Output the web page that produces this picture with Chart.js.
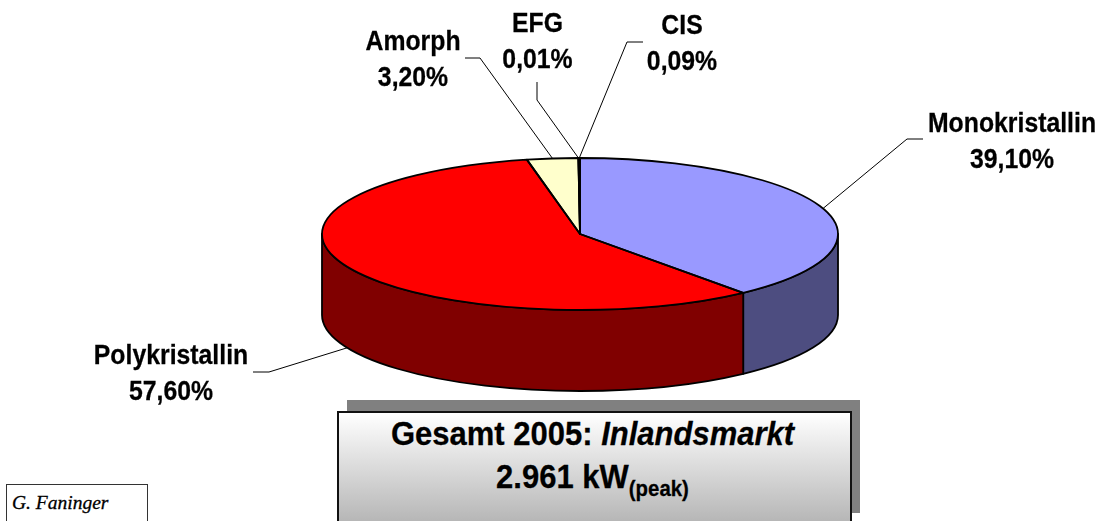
<!DOCTYPE html>
<html><head><meta charset="utf-8">
<style>
html,body{margin:0;padding:0;background:#fff;}
#wrap{position:relative;width:1103px;height:521px;overflow:hidden;font-family:"Liberation Sans",Arial,sans-serif;}
#c{position:absolute;left:0;top:0;}
.lbl{position:absolute;font-weight:bold;font-size:24.8px;line-height:31px;text-align:center;color:#000;white-space:nowrap;transform:translateX(-50%) scaleY(1.15);-webkit-text-stroke:0.25px #000;}
#shadow{position:absolute;left:347px;top:400px;width:513px;height:113px;background:#808080;}
#box{position:absolute;left:337px;top:411px;width:511px;height:112px;border:2px solid #111;background:linear-gradient(#fff,#b4b4b4);text-align:center;font-weight:bold;font-size:31px;line-height:38.5px;}
#inner{margin-top:3.5px;padding-right:4px;transform:scaleY(1.09);-webkit-text-stroke:0.25px #000;}
#box sub{font-size:20.4px;line-height:0;vertical-align:-8px;}
#sig{position:absolute;left:6px;top:484px;width:142px;height:40px;border:1px solid #333;background:#fff;font-family:"Liberation Serif",serif;font-style:italic;font-size:19.5px;line-height:36px;padding-left:5px;box-sizing:border-box;-webkit-text-stroke:0.3px #000;}
</style></head><body>
<div id="wrap">
<div id="shadow"></div>
<canvas id="c" width="1103" height="521"></canvas>
<div id="box"><div id="inner">Gesamt 2005: <i>Inlandsmarkt</i><br>2.961 kW<sub>(peak)</sub></div></div>
<div id="sig">G. Faninger</div>
</div>
<script src="https://cdn.jsdelivr.net/npm/chart.js@4/dist/chart.umd.min.js"></script>
<script>
const categories = ["Monokristallin","Polykristallin","Amorph","EFG","CIS"];
const shares = [39.1,57.6,3.2,0.01,0.09];
const shareLabels = ["39,10%","57,60%","3,20%","0,01%","0,09%"];
const topColors = ["#9999ff","#ff0000","#ffffcc","#ccffff","#660066"];
const sideColors = ["#4d4d80","#800000","#808066","#668080","#330033"];
const TILT = 76/258, DEPTH = 81, CY = 234;
const leaders = [
 {elbow:[907,139],end:[923,139],wall:false},
 {elbow:[269,372],end:[253,372],wall:true},
 {elbow:[480,58],end:[465,58],wall:false},
 {elbow:[537,100],end:[537,82],wall:false},
 {elbow:[627,42],end:[643,42],wall:false}
];
const labelPos = [[1012,109],[171,341],[413,27],[537.5,8.5],[682,10.5]];
labelPos.forEach((p,i)=>{
 const d=document.createElement('div');d.className='lbl';
 d.style.left=p[0]+'px';d.style.top=p[1]+'px';
 d.innerHTML=categories[i]+'<br>'+shareLabels[i];
 document.getElementById('wrap').appendChild(d);
});
const tilt3d = {
 id:'tilt3d',
 beforeDatasetsDraw(chart){
  const ctx=chart.ctx, arcs=chart.getDatasetMeta(0).data;
  const first=arcs[0];
  ctx.save();ctx.strokeStyle='#000';ctx.lineWidth=1.8;ctx.lineJoin='round';
  arcs.forEach((a,i)=>{
   const lo=Math.max(a.startAngle,0), hi=Math.min(a.endAngle,Math.PI);
   if(hi<=lo) return;
   const rx=a.outerRadius, ry=rx*TILT;
   ctx.beginPath();
   ctx.ellipse(a.x,CY,rx,ry,0,lo,hi,false);
   ctx.ellipse(a.x,CY+DEPTH,rx,ry,0,hi,lo,true);
   ctx.closePath();
   ctx.fillStyle=sideColors[i];ctx.fill();ctx.stroke();
  });
  ctx.restore();
  ctx.save();
  ctx.translate(0,CY);ctx.scale(1,TILT);ctx.translate(0,-first.y);
 },
 afterDatasetsDraw(chart){
  const ctx=chart.ctx, arcs=chart.getDatasetMeta(0).data;
  ctx.restore();
  ctx.save();ctx.strokeStyle='#000';ctx.lineWidth=1.8;ctx.lineJoin='round';
  arcs.forEach(a=>{
   const rx=a.outerRadius, ry=rx*TILT;
   ctx.beginPath();
   ctx.moveTo(a.x,CY);
   ctx.ellipse(a.x,CY,rx,ry,0,a.startAngle,a.endAngle,false);
   ctx.closePath();ctx.stroke();
  });
  ctx.lineWidth=1;ctx.strokeStyle='#000';
  arcs.forEach((a,i)=>{
   const m=(a.startAngle+a.endAngle)/2, rx=a.outerRadius, ry=rx*TILT;
   const l=leaders[i];
   const px=a.x+rx*Math.cos(m), py=CY+ry*Math.sin(m)+(l.wall?DEPTH:0);
   ctx.beginPath();ctx.moveTo(px,py);ctx.lineTo(l.elbow[0],l.elbow[1]);ctx.lineTo(l.end[0],l.end[1]);ctx.stroke();
  });
  ctx.restore();
 }
};
new Chart(document.getElementById('c'),{
 type:'pie',
 data:{labels:categories,datasets:[{data:shares,backgroundColor:topColors,borderWidth:0}]},
 options:{responsive:false,animation:false,
  layout:{padding:{left:57,right:0,top:2.5,bottom:2.5}},
  plugins:{legend:{display:false},tooltip:{enabled:false}}},
 plugins:[tilt3d]
});
</script>
</body></html>
